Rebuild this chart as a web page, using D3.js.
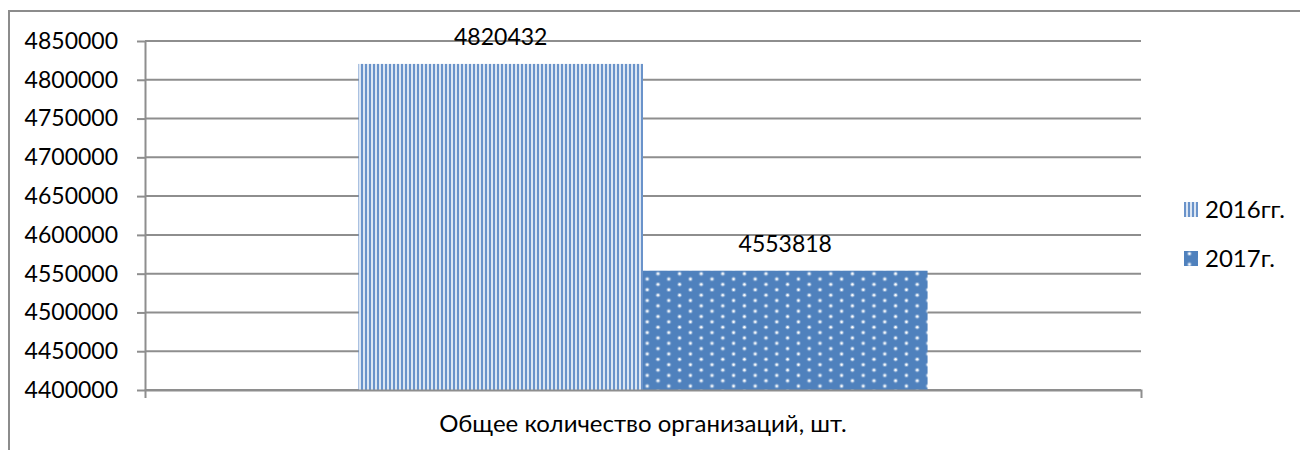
<!DOCTYPE html>
<html>
<head>
<meta charset="utf-8">
<script src="https://cdn.jsdelivr.net/npm/d3@7"></script>
<style>
  body { margin: 0; background: #fff; }
  text { font-family: Lato, "Liberation Sans", sans-serif; fill: #000; }
</style>
</head>
<body>
<div id="chart"></div>
<script>
// data
var categories = ["Общее количество организаций, шт."];
var seriesNames = ["2016гг.", "2017г."];
var values2016 = [4820432];
var values2017 = [4553818];
var yTicks = [4400000, 4450000, 4500000, 4550000, 4600000, 4650000, 4700000, 4750000, 4800000, 4850000];

var margin = {top: 41, left: 145},
    width = 996,
    height = 349;

var svg = d3.select("#chart")
  .append("svg")
    .attr("width", 1300)
    .attr("height", 450);

var defs = svg.append("defs");

// narrow vertical stripes for 2016
var stripes = defs.append("pattern")
    .attr("id", "stripes")
    .attr("patternUnits", "userSpaceOnUse")
    .attr("width", 4)
    .attr("height", 4);
stripes.append("rect").attr("width", 4).attr("height", 4).attr("fill", "#dce6f3");
stripes.append("rect").attr("width", 2).attr("height", 4).attr("fill", "#6a93ca");

// white dots on blue for 2017
var dots = defs.append("pattern")
    .attr("id", "dots")
    .attr("patternUnits", "userSpaceOnUse")
    .attr("width", 21.6)
    .attr("height", 10.7);
dots.append("rect").attr("width", 21.6).attr("height", 10.7).attr("fill", "#4f81bd");
[[5.4, 2.7], [16.2, 8.05]].forEach(function(p) {
  dots.append("circle").attr("cx", p[0]).attr("cy", p[1]).attr("r", 2.2).attr("fill", "#fff").attr("opacity", 0.35);
  dots.append("circle").attr("cx", p[0]).attr("cy", p[1]).attr("r", 1.2).attr("fill", "#fff");
});

// outer chart border (cut off on the right and bottom)
svg.append("rect")
  .attr("x", 9).attr("y", 11)
  .attr("width", 1300).attr("height", 450)
  .attr("fill", "none")
  .attr("stroke", "#8c8c8c")
  .attr("stroke-width", 2);

var g = svg.append("g")
  .attr("transform", "translate(" + margin.left + "," + margin.top + ")");

var y = d3.scaleLinear()
  .domain([4400000, 4850000])
  .range([height, 0]);

var x0 = d3.scaleBand()
  .domain(categories)
  .range([0, width]);

var x1 = d3.scaleBand()
  .domain(seriesNames)
  .range([0, x0.bandwidth()])
  .paddingInner(0)
  .paddingOuter(0.75);

// gridlines
g.append("g")
  .selectAll("line")
  .data(yTicks)
  .enter()
  .append("line")
    .attr("x1", 0)
    .attr("x2", width)
    .attr("y1", function(d) { return y(d); })
    .attr("y2", function(d) { return y(d); })
    .attr("stroke", "#8e8e8e")
    .attr("stroke-width", 2);

var series = [
  {name: seriesNames[0], values: values2016, fill: "url(#stripes)"},
  {name: seriesNames[1], values: values2017, fill: "url(#dots)"}
];

series.forEach(function(s) {
  g.selectAll(null)
    .data(s.values)
    .enter()
    .append("rect")
      .attr("x", function(d, i) { return x0(categories[i]) + x1(s.name); })
      .attr("y", function(d) { return y(d); })
      .attr("width", x1.bandwidth())
      .attr("height", function(d) { return height - y(d); })
      .attr("fill", s.fill);

  g.selectAll(null)
    .data(s.values)
    .enter()
    .append("text")
      .attr("x", function(d, i) { return x0(categories[i]) + x1(s.name) + x1.bandwidth() / 2; })
      .attr("y", function(d) { return y(d) - 19; })
      .attr("text-anchor", "middle")
      .style("font-size", "23px")
      .text(function(d) { return d; });
});

// Y axis
var yAxis = g.append("g")
  .call(d3.axisLeft(y).tickValues(yTicks).tickFormat(d3.format("d")).tickSizeInner(8).tickSizeOuter(0).tickPadding(19));
yAxis.selectAll("line, path").attr("stroke", "#8e8e8e").attr("stroke-width", 2);
yAxis.selectAll("text").style("font-size", "23px").attr("fill", "#000");

// X axis
var xAxis = g.append("g")
  .attr("transform", "translate(0," + height + ")")
  .call(d3.axisBottom(x0).tickSizeInner(0).tickSizeOuter(8).tickPadding(25));
xAxis.select("path").attr("stroke", "#8e8e8e").attr("stroke-width", 2);
xAxis.selectAll("text").style("font-size", "24px").attr("fill", "#000");

// legend
var legend = svg.append("g")
  .attr("transform", "translate(1184,202)");

series.forEach(function(s, i) {
  var row = legend.append("g").attr("transform", "translate(0," + (i * 49) + ")");
  row.append("rect").attr("width", 14).attr("height", 15).attr("fill", s.fill);
  row.append("text")
    .attr("x", 21)
    .attr("y", 16)
    .style("font-size", "24px")
    .text(s.name);
});
</script>
</body>
</html>
